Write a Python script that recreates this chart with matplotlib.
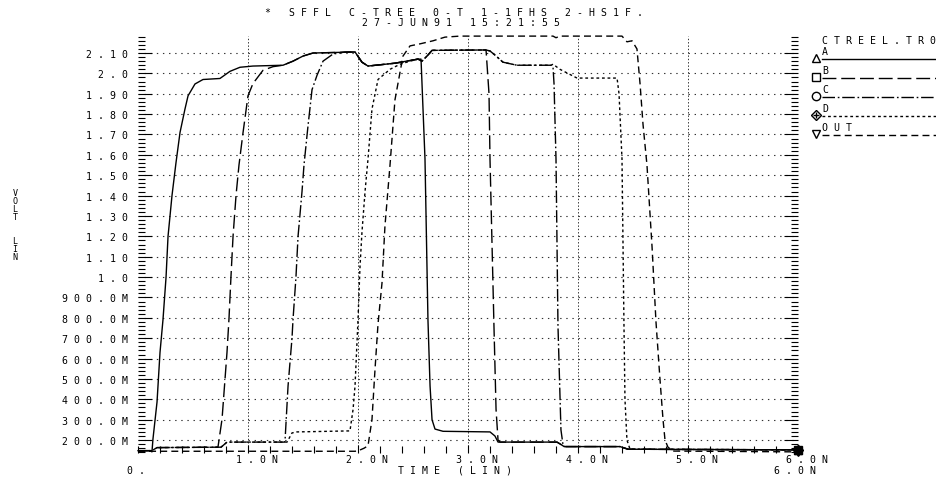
import matplotlib.pyplot as plt
from matplotlib.lines import Line2D
from matplotlib.ticker import MultipleLocator
from matplotlib.transforms import ScaledTranslation

plt.rcParams['font.family'] = 'DejaVu Sans Mono'
plt.rcParams['lines.scale_dashes'] = False


def sp(s):
    # old plotter text: every character sits in its own wide cell
    return " ".join(s)


# curves: time in ns, voltage in V
t_a = [0.0, 0.109, 0.127, 0.136, 0.173, 0.2, 0.227, 0.255, 0.273, 0.309, 0.345, 0.382,
       0.427, 0.455, 0.518, 0.591, 0.745, 0.836, 0.927, 1.045, 1.318, 1.409, 1.5, 1.591,
       1.973, 2.036, 2.091, 2.336, 2.545, 2.573, 2.591, 2.609, 2.636, 2.655, 2.673, 2.7,
       2.773, 3.2, 3.245, 3.273, 3.809, 3.855, 3.873, 4.382, 4.455, 6.0]
v_a = [0.148, 0.148, 0.142, 0.205, 0.387, 0.63, 0.79, 1.0, 1.2, 1.40, 1.56, 1.71,
       1.825, 1.89, 1.948, 1.97, 1.975, 2.01, 2.03, 2.036, 2.04, 2.06, 2.085, 2.10,
       2.105, 2.055, 2.036, 2.05, 2.07, 2.07, 1.825, 1.58, 0.79, 0.466, 0.30, 0.254,
       0.243, 0.24, 0.22, 0.19, 0.19, 0.175, 0.168, 0.168, 0.155, 0.152]

t_b = [0.0, 0.127, 0.173, 0.727, 0.764, 0.809, 0.827, 0.845, 0.864, 0.891, 0.918, 0.955,
       1.0, 1.045, 1.136, 1.227, 1.318, 1.409, 1.5, 1.591, 1.973, 2.036, 2.091, 2.336,
       2.545, 2.582, 2.636, 2.673, 3.164, 3.191, 3.2, 3.236, 3.255, 3.273, 3.291, 3.809,
       3.855, 3.873, 4.382, 4.455, 6.0]
v_b = [0.148, 0.148, 0.163, 0.165, 0.303, 0.63, 0.794, 1.0, 1.2, 1.40, 1.55, 1.71,
       1.89, 1.95, 2.015, 2.033, 2.04, 2.06, 2.085, 2.10, 2.105, 2.055, 2.036, 2.05,
       2.07, 2.06, 2.09, 2.113, 2.115, 1.9, 1.58, 0.76, 0.35, 0.2, 0.19, 0.19,
       0.175, 0.168, 0.168, 0.155, 0.152]

t_c = [0.0, 0.127, 0.173, 0.755, 0.809, 1.336, 1.364, 1.4, 1.409, 1.436, 1.455, 1.491,
       1.509, 1.545, 1.582, 1.627, 1.682, 1.773, 1.882, 1.973, 2.036, 2.091, 2.336, 2.545,
       2.582, 2.636, 2.673, 3.164, 3.2, 3.245, 3.318, 3.445, 3.755, 3.773, 3.782, 3.8,
       3.818, 3.845, 3.864, 3.882, 4.382, 4.455, 6.0]
v_c = [0.148, 0.148, 0.163, 0.165, 0.19, 0.19, 0.465, 0.7, 0.79, 1.0, 1.2, 1.42,
       1.55, 1.74, 1.92, 1.99, 2.06, 2.095, 2.105, 2.105, 2.055, 2.036, 2.05, 2.07,
       2.06, 2.09, 2.113, 2.115, 2.11, 2.09, 2.055, 2.04, 2.04, 2.03, 1.95, 1.58,
       0.76, 0.25, 0.175, 0.168, 0.168, 0.155, 0.152]

t_d = [0.0, 0.127, 0.173, 0.755, 0.809, 1.355, 1.4, 1.445, 1.927, 1.955, 1.973, 2.0,
       2.018, 2.036, 2.064, 2.091, 2.127, 2.182, 2.291, 2.382, 2.473, 2.545, 2.582, 2.636,
       2.673, 3.164, 3.2, 3.245, 3.318, 3.445, 3.755, 3.773, 3.836, 3.955, 3.991, 4.355,
       4.373, 4.4, 4.418, 4.427, 4.445, 4.473, 6.0]
v_d = [0.148, 0.148, 0.163, 0.165, 0.19, 0.19, 0.235, 0.24, 0.245, 0.35, 0.466, 0.79,
       1.05, 1.22, 1.42, 1.58, 1.825, 1.97, 2.02, 2.045, 2.06, 2.07, 2.06, 2.09,
       2.113, 2.115, 2.11, 2.09, 2.055, 2.04, 2.04, 2.045, 2.02, 1.987, 1.977, 1.977,
       1.9, 1.58, 0.76, 0.4, 0.2, 0.155, 0.152]

t_out = [0.0, 1.973, 2.0, 2.055, 2.091, 2.127, 2.155, 2.182, 2.218, 2.245, 2.291, 2.336,
         2.409, 2.473, 2.564, 2.682, 2.791, 2.927, 3.773, 3.8, 3.836, 4.4, 4.445, 4.491,
         4.536, 4.564, 4.591, 4.627, 4.673, 4.709, 4.745, 4.773, 4.791, 4.818, 4.864, 6.0]
v_out = [0.145, 0.145, 0.147, 0.16, 0.172, 0.30, 0.55, 0.77, 0.97, 1.25, 1.55, 1.87,
         2.085, 2.135, 2.145, 2.16, 2.178, 2.183, 2.183, 2.175, 2.183, 2.183, 2.155, 2.16,
         2.12, 1.95, 1.75, 1.55, 1.15, 0.78, 0.5, 0.30, 0.2, 0.165, 0.146, 0.142]

names = ["A", "B", "C", "D", "OUT"]
y_ticks = [2.1, 2.0, 1.9, 1.8, 1.7, 1.6, 1.5, 1.4, 1.3, 1.2, 1.1, 1.0,
           0.9, 0.8, 0.7, 0.6, 0.5, 0.4, 0.3, 0.2]
y_labels = ["2.10", "2.0", "1.90", "1.80", "1.70", "1.60", "1.50", "1.40", "1.30",
            "1.20", "1.10", "1.0", "900.0M", "800.0M", "700.0M", "600.0M", "500.0M",
            "400.0M", "300.0M", "200.0M"]
x_ticks = [1, 2, 3, 4, 5, 6]
x_labels = ["1.0N", "2.0N", "3.0N", "4.0N", "5.0N", "6.0N"]

W, H = 936, 481
fs = 7.1


def fx(px):
    return px / W


def fy(py):
    return 1 - py / H


fig = plt.figure(figsize=(W / 100, H / 100), dpi=100)
ax = fig.add_axes([fx(138), fy(454.1), 660 / W, (454.1 - 36.7) / H])
ax.set_xlim(0, 6)
ax.set_ylim(0.136, 2.185)
for s in ax.spines.values():
    s.set_visible(False)

styles = {
    "A": "-",
    "B": (0, (10, 3.5)),
    "C": (0, (9, 2, 1.2, 2)),
    "D": (0, (2, 2)),
    "OUT": (0, (5, 3)),
}
markers = {"A": "^", "B": "s", "C": "o", "D": "D", "OUT": "v"}
series = {"A": (t_a, v_a), "B": (t_b, v_b), "C": (t_c, v_c),
          "D": (t_d, v_d), "OUT": (t_out, v_out)}

for n in ["OUT", "D", "C", "B", "A"]:
    t, v = series[n]
    ax.plot(t, v, color="black", lw=1.0, linestyle=styles[n], clip_on=False,
            marker=markers[n], markevery=[-1], ms=5.5, mfc="black", mec="black")

# ticks and grid
ax.set_yticks(y_ticks, [sp(s) for s in y_labels], fontsize=fs)
ax.yaxis.set_minor_locator(MultipleLocator(0.02))
ax.set_xticks(x_ticks, [sp(s) for s in x_labels], fontsize=fs)
ax.xaxis.set_minor_locator(MultipleLocator(0.2))
ax.tick_params(axis="y", which="major", direction="in", length=10, width=0.8,
               left=True, right=True, pad=7)
ax.tick_params(axis="y", which="minor", direction="in", length=5, width=0.8,
               left=True, right=True)
ax.tick_params(axis="x", which="major", direction="in", length=6, width=0.8, pad=1.0)
ax.tick_params(axis="x", which="minor", direction="in", length=5, width=0.8)
for lab in ax.get_xticklabels():
    lab.set_transform(lab.get_transform() + ScaledTranslation(8.5 / 100, 0, fig.dpi_scale_trans))

ax.yaxis.grid(True, which="major", linestyle=(0, (1.0, 3.4)), color="#333333", lw=0.8)
ax.xaxis.grid(True, which="major", linestyle=(0, (1.0, 1.4)), color="#333333", lw=0.7)
ax.set_axisbelow(True)

# axis texts
ax.set_xlabel(sp("TIME (LIN)"), fontsize=fs)
ax.xaxis.set_label_coords((455 - 138) / 660, -(466 - 454.1) / 417.4)
fig.text(fx(136), fy(471), sp("0."), fontsize=fs, ha="center", va="center")
fig.text(fx(795), fy(471), sp("6.0N"), fontsize=fs, ha="center", va="center")

for ch, py in zip("VOLTLIN", [194, 202, 210, 218, 242, 250, 258]):
    fig.text(fx(15), fy(py), ch, fontsize=6.0, ha="center", va="center")

fig.text(fx(454), fy(12.5), sp("* SFFL C-TREE 0-T 1-1FHS 2-HS1F."), fontsize=fs,
         ha="center", va="center")
fig.text(fx(461), fy(23.5), sp("27-JUN91 15:21:55"), fontsize=fs, ha="center", va="center")

# legend
fig.text(fx(822), fy(41), sp("CTREEL.TR0"), fontsize=fs, ha="left", va="center")
for i, n in enumerate(names):
    ly = 60 + 19 * i
    fig.text(fx(822), fy(ly - 8), sp(n), fontsize=fs, ha="left", va="center")
    fig.add_artist(Line2D([fx(822), fx(936)], [fy(ly), fy(ly)], color="black", lw=1.0,
                          linestyle=styles[n], transform=fig.transFigure))
    fig.add_artist(Line2D([fx(816)], [fy(ly - 1)], marker=markers[n], ms=6 if n != "D" else 5,
                          mfc="none", mec="black", mew=1.0, transform=fig.transFigure))
fig.add_artist(Line2D([fx(816)], [fy(116)], marker="+", ms=4, mec="black",
                      mew=1.0, transform=fig.transFigure))

fig.savefig("out.png", dpi=100)
